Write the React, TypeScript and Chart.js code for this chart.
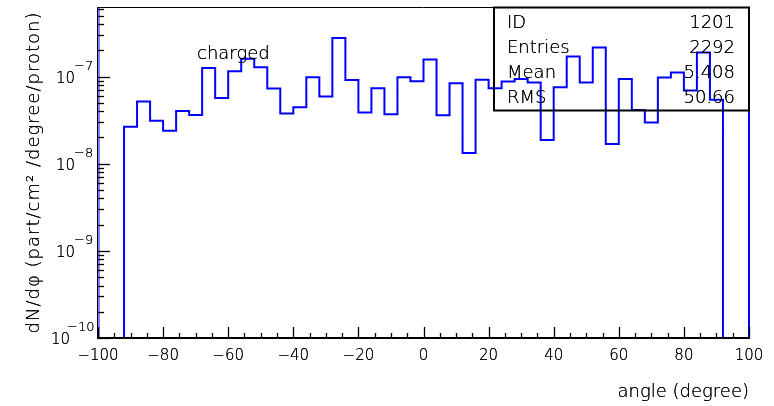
import { useEffect, useRef } from 'react';
import { Chart, registerables } from 'chart.js';

Chart.register(...registerables);

// Histogram bin edges (degrees)
const binEdges = [
  -92, -88, -84, -80, -76, -72, -68, -64, -60, -56, -52, -48, -44, -40, -36, -32,
  -28, -24, -20, -16, -12, -8, -4, 0, 4, 8, 12, 16, 20, 24, 28, 32, 36, 40, 44,
  48, 52, 56, 60, 64, 68, 72, 76, 80, 84, 88, 92,
];

// dN/dphi per bin (part/cm^2/degree/proton)
const binValues = [
  2.66e-8, 5.16e-8, 3.12e-8, 2.39e-8, 4.03e-8, 3.63e-8, 1.25e-7, 5.69e-8,
  1.15e-7, 1.6e-7, 1.28e-7, 7.28e-8, 3.76e-8, 4.45e-8, 9.8e-8, 5.89e-8,
  2.76e-7, 9.1e-8, 3.86e-8, 7.36e-8, 3.7e-8, 9.8e-8, 8.85e-8, 1.57e-7,
  3.6e-8, 8.4e-8, 1.33e-8, 9.2e-8, 7.36e-8, 8.77e-8, 9.4e-8, 8.53e-8,
  1.87e-8, 7.55e-8, 1.7e-7, 8.53e-8, 2.15e-7, 1.68e-8, 9.4e-8, 4.14e-8,
  2.96e-8, 9.75e-8, 1.11e-7, 6.9e-8, 1.89e-7, 5.4e-8,
];

const xTickValues = [-100, -80, -60, -40, -20, 0, 20, 40, 60, 80, 100];
const xTickLabels = ['\u2212100', '\u221280', '\u221260', '\u221240', '\u221220', '0', '20', '40', '60', '80', '100'];
const yDecadeExponents = [-10, -9, -8, -7];
const yDecadeLabels = ['\u221210', '\u22129', '\u22128', '\u22127'];

const statsLabels = ['ID', 'Entries', 'Mean', 'RMS'];
const statsValues = ['1201', '2292', '5.408', '50.66'];

const histTitle = 'charged';
const xTitle = 'angle (degree)';
const yTitle = 'dN/d\u03c6 (part/cm\u00b2 /degree/proton)';

const X_MIN = -100;
const X_MAX = 100;
const Y_MIN = 1e-10;
const Y_MAX = 6.28e-7;

const FONT = "'DejaVu Sans', sans-serif";
const W = '300';

export default function App() {
  const canvasRef = useRef<HTMLCanvasElement | null>(null);

  useEffect(() => {
    const canvas = canvasRef.current;
    if (!canvas) return;

    // step histogram outline through the bin edges
    const pts: { x: number; y: number }[] = [];
    pts.push({ x: binEdges[0], y: Y_MIN });
    for (let i = 0; i < binValues.length; i++) {
      pts.push({ x: binEdges[i], y: binValues[i] });
    }
    pts.push({ x: binEdges[binEdges.length - 1], y: binValues[binValues.length - 1] });
    pts.push({ x: binEdges[binEdges.length - 1], y: Y_MIN });

    const decor = {
      id: 'pawDecor',
      afterDraw(chart: any) {
        const { ctx, chartArea } = chart;
        const { left, right, top, bottom } = chartArea;
        const xs = chart.scales.x;
        const ys = chart.scales.y;
        const txt = (s: string, x: number, y: number) => {
          ctx.fillText(s, x, y);
          ctx.fillText(s, x, y);
        };
        ctx.save();

        // frame
        ctx.lineWidth = 1;
        ctx.strokeStyle = '#000';
        ctx.beginPath();
        ctx.moveTo(left, top + 0.5);
        ctx.lineTo(right, top + 0.5);
        ctx.stroke();

        ctx.strokeStyle = '#0000ff';
        ctx.lineWidth = 2;
        ctx.beginPath();
        ctx.moveTo(right, top);
        ctx.lineTo(right, bottom);
        ctx.stroke();

        ctx.lineWidth = 1;
        ctx.beginPath();
        ctx.moveTo(left + 1, top);
        ctx.lineTo(left + 1, bottom);
        ctx.stroke();

        ctx.strokeStyle = '#000';
        ctx.beginPath();
        ctx.moveTo(left - 0.5, top);
        ctx.lineTo(left - 0.5, bottom + 1);
        ctx.stroke();

        ctx.lineWidth = 2;
        ctx.beginPath();
        ctx.moveTo(left - 1, bottom);
        ctx.lineTo(right + 1, bottom);
        ctx.stroke();

        // x ticks (inward, from bottom)
        ctx.lineWidth = 1.3;
        ctx.strokeStyle = '#000';
        for (let v = X_MIN; v <= X_MAX; v += 5) {
          const px = Math.round(xs.getPixelForValue(v)) + 0.5;
          const len = v % 20 === 0 ? 11 : 5;
          ctx.beginPath();
          ctx.moveTo(px, bottom);
          ctx.lineTo(px, bottom - len);
          ctx.stroke();
        }

        // y ticks (inward, from left)
        for (const e of yDecadeExponents) {
          for (let m = 1; m <= 9; m++) {
            const val = m * Math.pow(10, e);
            if (val > Y_MAX) break;
            const py = Math.round(ys.getPixelForValue(val)) + 0.5;
            const len = m === 1 ? 12 : 6;
            ctx.beginPath();
            ctx.moveTo(left, py);
            ctx.lineTo(left + len, py);
            ctx.stroke();
          }
        }

        // x tick labels
        ctx.fillStyle = '#000';
        ctx.font = `${W} 15px ${FONT}`;
        ctx.textAlign = 'center';
        ctx.textBaseline = 'alphabetic';
        xTickValues.forEach((v, i) => {
          txt(xTickLabels[i], xs.getPixelForValue(v), 360);
        });

        // y tick labels 10^n
        yDecadeExponents.forEach((e, i) => {
          const py = ys.getPixelForValue(Math.pow(10, e));
          const isLast = e === -10;
          const baseRight = isLast ? 70 : 75;
          const expLeft = isLast ? 67 : 74;
          ctx.font = `${W} 15px ${FONT}`;
          ctx.textAlign = 'right';
          txt('10', baseRight, py + 6);
          ctx.font = `${W} 13px ${FONT}`;
          ctx.textAlign = 'left';
          txt(yDecadeLabels[i], expLeft, py - 7);
        });

        // axis titles
        ctx.font = `${W} 18px ${FONT}`;
        ctx.textAlign = 'right';
        txt(xTitle, right, 397);

        ctx.save();
        ctx.translate(34, (top + bottom) / 2);
        ctx.rotate(-Math.PI / 2);
        ctx.textAlign = 'center';
        ctx.textBaseline = 'middle';
        (ctx as any).letterSpacing = '1px';
        txt(yTitle, 0, 0);
        ctx.restore();

        // histogram title
        ctx.font = `${W} 18px ${FONT}`;
        ctx.textAlign = 'left';
        txt(histTitle, 197, 59);

        // stats box
        ctx.lineWidth = 2;
        ctx.strokeStyle = '#000';
        ctx.strokeRect(494, top + 0.5, right - 494, 110 - top);
        ctx.font = `${W} 18px ${FONT}`;
        statsLabels.forEach((lab, i) => {
          const by = 28 + i * 25;
          ctx.textAlign = 'left';
          txt(lab, 507, by);
          ctx.textAlign = 'right';
          txt(statsValues[i], 735, by);
        });

        ctx.restore();
      },
    };

    const chart = new Chart(canvas, {
      type: 'line',
      data: {
        datasets: [
          {
            label: histTitle,
            data: pts,
            stepped: 'before',
            borderColor: '#0000ff',
            borderWidth: 2,
            pointRadius: 0,
            fill: false,
            tension: 0,
          },
        ],
      },
      options: {
        animation: false,
        responsive: false,
        maintainAspectRatio: false,
        devicePixelRatio: 1,
        layout: { padding: { left: 98, top: 7, right: 25, bottom: 68 } },
        plugins: {
          legend: { display: false },
          tooltip: { enabled: false },
          title: { display: false },
        },
        scales: {
          x: { type: 'linear', min: X_MIN, max: X_MAX, display: false },
          y: { type: 'logarithmic', min: Y_MIN, max: Y_MAX, display: false },
        },
      },
      plugins: [decor],
    });

    return () => {
      chart.destroy();
    };
  }, []);

  return (
    <div style={{ position: 'fixed', left: 0, top: 0, width: 774, height: 406, background: '#fff' }}>
      <canvas ref={canvasRef} width={774} height={406} style={{ width: 774, height: 406 }} />
    </div>
  );
}
